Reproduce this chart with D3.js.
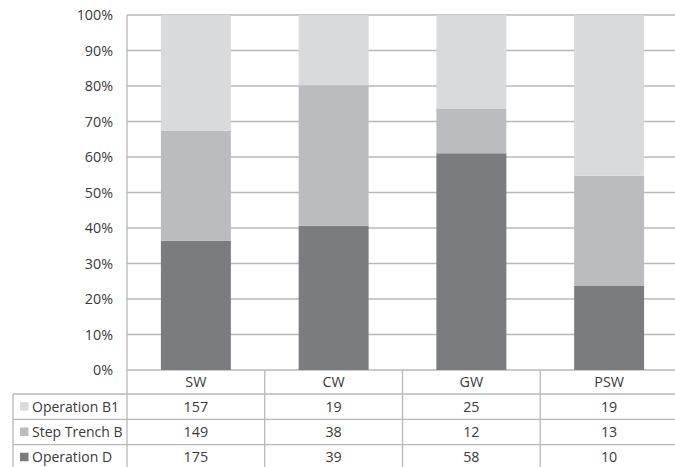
<!DOCTYPE html>
<html>
<head>
<meta charset="utf-8">
<script src="https://cdn.jsdelivr.net/npm/d3@7"></script>
<style>
  html, body { margin: 0; padding: 0; background: #fff; }
  svg { display: block; }
  text { font-family: "Open Sans", sans-serif; fill: #3a3a3a; }
</style>
</head>
<body>
<svg id="chart" width="675" height="467"></svg>
<script>
// Site categories and counts per excavation unit
const categories = ["SW", "CW", "GW", "PSW"];
const seriesNames = ["Operation B1", "Step Trench B", "Operation D"];
const operationB1 = [157, 19, 25, 19];
const stepTrenchB = [149, 38, 12, 13];
const operationD = [175, 39, 58, 10];
const yTicks = [0, 0.1, 0.2, 0.3, 0.4, 0.5, 0.6, 0.7, 0.8, 0.9, 1.0];

const colors = {
  "Operation B1": "#d9dadc",
  "Step Trench B": "#bbbcbf",
  "Operation D": "#7b7c80"
};
const lineColor = "#b8b8b8";
const fontSize = 14.3;
const legendFontSize = 14;

const svg = d3.select("#chart");
const plotLeft = 127, plotRight = 678, plotTop = 15, plotBottom = 370;
const tableLeft = 13;
const rowH = 25.3;

// Build rows for the stack (bottom series first)
const rows = categories.map((c, i) => ({
  cat: c,
  "Operation D": operationD[i],
  "Step Trench B": stepTrenchB[i],
  "Operation B1": operationB1[i]
}));
const stackKeys = ["Operation D", "Step Trench B", "Operation B1"];
const stacked = d3.stack().keys(stackKeys).offset(d3.stackOffsetExpand)(rows);

const xCell = d3.scaleBand().domain(categories).range([plotLeft, plotRight]).padding(0);
const xBar = d3.scaleBand().domain(categories).range([plotLeft, plotRight])
  .paddingInner(0.492).paddingOuter(0.246);
const y = d3.scaleLinear().domain([0, 1]).range([plotBottom, plotTop]);

// Horizontal gridlines
svg.append("g").selectAll("line").data(yTicks).join("line")
  .attr("x1", plotLeft).attr("x2", plotRight)
  .attr("y1", d => y(d)).attr("y2", d => y(d))
  .attr("stroke", lineColor).attr("stroke-width", 1.3);

// Y tick labels
const yAxis = d3.axisLeft(y).tickValues(yTicks).tickFormat(d3.format(".0%")).tickSize(0).tickPadding(14);
const yg = svg.append("g").attr("transform", `translate(${plotLeft},0)`).call(yAxis);
yg.select(".domain").remove();
yg.selectAll("text").attr("font-size", fontSize).attr("fill", "#3a3a3a")
  .style("font-family", "'Open Sans', sans-serif");

// Stacked bars
svg.append("g").selectAll("g").data(stacked).join("g")
  .attr("fill", d => colors[d.key])
  .selectAll("rect").data(d => d).join("rect")
  .attr("x", d => xBar(d.data.cat))
  .attr("width", xBar.bandwidth())
  .attr("y", d => y(d[1]))
  .attr("height", d => y(d[0]) - y(d[1]));

// Data table beneath the plot
const tableTop = plotBottom;
const headerBottom = tableTop + 24;
const tableBottom = headerBottom + rowH * 3 + 2;

const tbl = svg.append("g");
// vertical axis line continues through the table
tbl.append("line").attr("x1", plotLeft).attr("x2", plotLeft)
  .attr("y1", plotTop).attr("y2", tableBottom)
  .attr("stroke", lineColor).attr("stroke-width", 1.3);
// category dividers
tbl.selectAll("line.div").data(categories.slice(1)).join("line").attr("class", "div")
  .attr("x1", d => xCell(d)).attr("x2", d => xCell(d))
  .attr("y1", tableTop).attr("y2", tableBottom)
  .attr("stroke", lineColor).attr("stroke-width", 1.3);
// left table border
tbl.append("line").attr("x1", tableLeft).attr("x2", tableLeft)
  .attr("y1", headerBottom).attr("y2", tableBottom)
  .attr("stroke", lineColor).attr("stroke-width", 1.3);
// row separators
const rowLines = [0, 1, 2, 3].map(i => headerBottom + i * rowH);
tbl.selectAll("line.row").data(rowLines).join("line").attr("class", "row")
  .attr("x1", tableLeft).attr("x2", plotRight)
  .attr("y1", d => d).attr("y2", d => d)
  .attr("stroke", lineColor).attr("stroke-width", 1.3);

// category header labels
tbl.selectAll("text.cat").data(categories).join("text").attr("class", "cat")
  .attr("x", d => xCell(d) + xCell.bandwidth() / 2)
  .attr("y", tableTop + 12)
  .attr("dy", "0.35em")
  .attr("text-anchor", "middle")
  .attr("font-size", fontSize)
  .text(d => d);

const seriesValues = {
  "Operation B1": operationB1,
  "Step Trench B": stepTrenchB,
  "Operation D": operationD
};

seriesNames.forEach((name, r) => {
  const cy = headerBottom + r * rowH + rowH / 2;
  tbl.append("rect")
    .attr("x", 20).attr("y", cy - 4.5)
    .attr("width", 8.5).attr("height", 8.5)
    .attr("fill", colors[name]);
  tbl.append("text")
    .attr("x", 32).attr("y", cy).attr("dy", "0.35em")
    .attr("font-size", legendFontSize)
    .text(name);
  tbl.selectAll(null).data(seriesValues[name]).join("text")
    .attr("x", (d, i) => xCell(categories[i]) + xCell.bandwidth() / 2)
    .attr("y", cy).attr("dy", "0.35em")
    .attr("text-anchor", "middle")
    .attr("font-size", fontSize)
    .text(d => d);
});
</script>
</body>
</html>
